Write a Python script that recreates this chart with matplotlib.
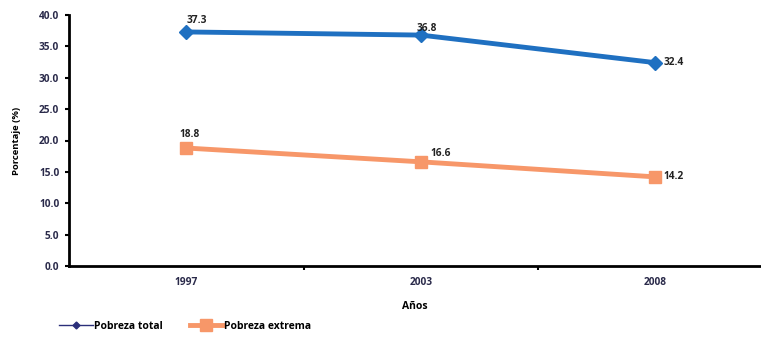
import numpy as np
import matplotlib.pyplot as plt
from matplotlib.lines import Line2D

# data
years = ["1997", "2003", "2008"]
pobreza_total = [37.3, 36.8, 32.4]
pobreza_extrema = [18.8, 16.6, 14.2]

plt.rcParams['font.family'] = ['Open Sans', 'DejaVu Sans']

fig = plt.figure(figsize=(7.61, 3.38), dpi=100)
ax = fig.add_axes([69 / 761, 1 - 266 / 338, 1 - 69 / 761, (266 - 15) / 338])

x = np.arange(len(years))
blue = "#1f70c1"
orange = "#f79769"
ax.plot(x, pobreza_total, color=blue, lw=3.5, marker="D", ms=7, zorder=3)
ax.plot(x, pobreza_extrema, color=orange, lw=3.5, marker="s", ms=9, zorder=3)

# data labels (offsets in points)
offs_t = [(0, 8), (-3, 5), (6, 0)]
offs_e = [(-5, 10), (7, 6), (6, 0)]
for i, v in enumerate(pobreza_total):
    dx, dy = offs_t[i]
    ax.annotate(f"{v:.1f}", (x[i], v), xytext=(dx, dy), textcoords="offset points",
                fontsize=7.3, fontweight="bold", color="#222222", ha="left", va="center")
for i, v in enumerate(pobreza_extrema):
    dx, dy = offs_e[i]
    ax.annotate(f"{v:.1f}", (x[i], v), xytext=(dx, dy), textcoords="offset points",
                fontsize=7.3, fontweight="bold", color="#222222", ha="left", va="center")

ax.set_xlim(-0.5, 2.45)
ax.set_ylim(0, 40)
ax.set_yticks(np.arange(0, 40.1, 5))
ax.set_yticklabels([f"{v:.1f}" for v in np.arange(0, 40.1, 5)])
ax.set_xticks(x)
ax.set_xticklabels(years)
ax.set_xticks([0.5, 1.5], minor=True)
ax.tick_params(axis="x", which="major", length=0, pad=8)
ax.tick_params(axis="x", which="minor", length=3, width=1.5, direction="out")
ax.tick_params(axis="y", length=3, width=1.5, direction="out", pad=4)
for lab in ax.get_xticklabels() + ax.get_yticklabels():
    lab.set_fontsize(7.3)
    lab.set_fontweight("bold")
    lab.set_color("#2a2a4a")

for s in ["top", "right"]:
    ax.spines[s].set_visible(False)
for s in ["left", "bottom"]:
    ax.spines[s].set_linewidth(2)

ax.set_ylabel("Porcentaje (%)", fontsize=6.8, fontweight="bold", labelpad=13)
ax.set_xlabel("Años", fontsize=7.5, fontweight="bold", labelpad=9)

handles = [Line2D([], [], color="#2b2f7a", lw=1, marker="D", ms=3.5),
           Line2D([], [], color=orange, lw=3.5, marker="s", ms=9)]
fig.legend(handles, ["Pobreza total", "Pobreza extrema"], loc="lower left",
           bbox_to_anchor=(50 / 761, -0.01), ncol=2, frameon=False,
           prop={"size": 7.5, "weight": "bold"}, handlelength=3.2,
           handletextpad=0.1, columnspacing=2.6)

fig.savefig("out.png", dpi=100)
